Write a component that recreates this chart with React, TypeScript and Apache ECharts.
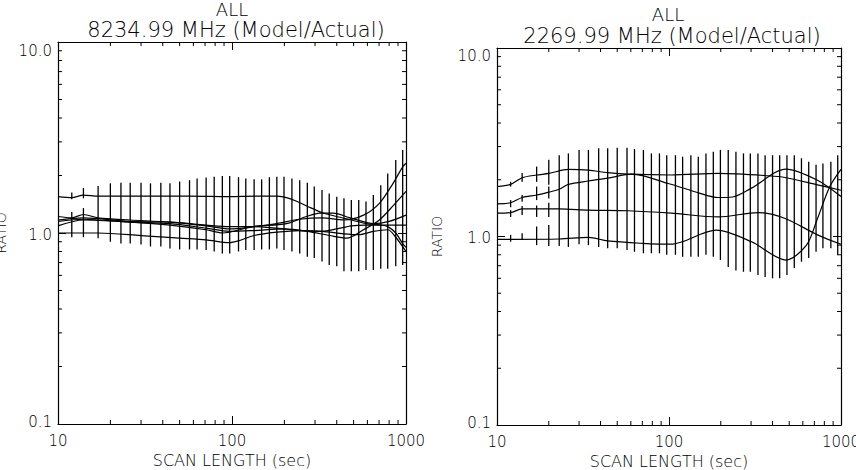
import React, { useEffect, useRef } from "react";
import * as echarts from "echarts";

// ---------- data ----------
const titleTop = "ALL";
const leftTitle = "8234.99 MHz (Model/Actual)";
const rightTitle = "2269.99 MHz (Model/Actual)";
const xName = "SCAN LENGTH (sec)";
const yName = "RATIO";

const xMinorTicks = [20, 30, 40, 50, 60, 70, 80, 90, 200, 300, 400, 500, 600, 700, 800, 900];
const yMinorTicks = [0.2, 0.3, 0.4, 0.5, 0.6, 0.7, 0.8, 0.9, 2, 3, 4, 5, 6, 7, 8, 9];

// Left panel (8234.99 MHz) – ratio curves [scan length, ratio]
const left1: [number, number][] = [[10, 1.55], [12, 1.53], [14, 1.58], [17, 1.56], [30, 1.56], [57, 1.56], [97, 1.55], [134, 1.56], [181, 1.56], [221, 1.5], [271, 1.38], [329, 1.28], [400, 1.22], [485, 1.17], [589, 1.12], [716, 1.1], [785, 1.08], [873, 1.0], [957, 0.88], [1000, 0.84]];
const left2: [number, number][] = [[10, 1.22], [12, 1.2], [14, 1.25], [17, 1.2], [26, 1.17], [44, 1.14], [71, 1.09], [97, 1.05], [134, 1.08], [181, 1.12], [245, 1.18], [329, 1.2], [440, 1.17], [570, 1.24], [703, 1.43], [843, 1.82], [957, 2.22], [1000, 2.32]];
const left3: [number, number][] = [[10, 1.15], [14, 1.18], [26, 1.14], [44, 1.12], [71, 1.06], [97, 1.02], [134, 1.03], [199, 1.05], [271, 1.02], [364, 0.97], [456, 0.94], [570, 1.04], [703, 1.17], [850, 1.4], [1000, 1.65]];
const left4: [number, number][] = [[10, 1.09], [14, 1.17], [26, 1.14], [44, 1.1], [71, 1.04], [88, 1.0], [132, 1.08], [206, 1.12], [268, 1.22], [320, 1.27], [381, 1.27], [478, 1.2], [650, 1.12], [800, 1.15], [1000, 1.24]];
const left5: [number, number][] = [[10, 1.17], [14, 1.2], [26, 1.15], [44, 1.14], [71, 1.1], [97, 1.08], [134, 1.08], [181, 1.06], [245, 1.03], [329, 1.02], [400, 1.05], [485, 1.09], [589, 1.1], [716, 1.1], [1000, 1.1]];
const left6: [number, number][] = [[10, 1.0], [17, 1.0], [30, 0.97], [50, 0.94], [71, 0.92], [97, 0.89], [109, 0.91], [134, 0.97], [181, 1.01], [245, 1.03], [329, 1.02], [440, 0.99], [535, 0.98], [649, 1.02], [785, 1.04], [873, 0.95], [1000, 0.8]];

// Left panel error bars: separate short bars at the first scan lengths, then the combined span
const leftEarlyBars: [number, number, number][] = [[12, 1.5, 1.63], [12, 0.95, 1.29], [14, 1.52, 1.72], [14, 0.95, 1.35]];
const leftBarX = [17, 20, 23, 26, 30, 34, 39, 44, 50, 57, 63, 71, 79, 88, 97, 109, 120, 134, 148, 164, 181, 199, 221, 245, 271, 297, 329, 362, 400, 440, 485, 535, 589, 649, 716, 785, 873, 957];
const leftBarLow = [0.94, 0.9, 0.88, 0.88, 0.87, 0.85, 0.85, 0.83, 0.82, 0.82, 0.82, 0.815, 0.8, 0.78, 0.78, 0.8, 0.815, 0.815, 0.82, 0.82, 0.83, 0.815, 0.8, 0.78, 0.75, 0.74, 0.71, 0.68, 0.67, 0.63, 0.63, 0.63, 0.64, 0.64, 0.65, 0.65, 0.67, 0.68];
const leftBarHigh = [1.76, 1.82, 1.83, 1.83, 1.83, 1.82, 1.83, 1.82, 1.86, 1.89, 1.93, 1.95, 1.97, 1.99, 1.99, 1.96, 1.93, 1.91, 1.91, 1.96, 1.97, 1.97, 1.93, 1.89, 1.83, 1.75, 1.68, 1.61, 1.55, 1.52, 1.49, 1.49, 1.46, 1.58, 1.78, 2.05, 2.41, 2.72];

// Right panel (2269.99 MHz)
const right1: [number, number][] = [[10, 1.84], [12, 1.89], [14, 2.05], [17, 2.12], [20, 2.16], [26, 2.27], [34, 2.25], [44, 2.18], [58, 2.14], [103, 2.12], [193, 2.16], [377, 2.1], [479, 2.05], [730, 1.88], [1000, 1.76]];
const right2: [number, number][] = [[10, 1.49], [12, 1.51], [14, 1.61], [17, 1.66], [20, 1.72], [23, 1.78], [26, 1.89], [34, 1.97], [44, 2.04], [61, 2.14], [99, 1.91], [150, 1.7], [193, 1.61], [234, 1.62], [300, 1.8], [479, 2.28], [730, 1.99], [1000, 1.63]];
const right3: [number, number][] = [[10, 1.33], [12, 1.34], [14, 1.4], [23, 1.4], [34, 1.38], [58, 1.37], [103, 1.33], [193, 1.27], [330, 1.34], [470, 1.25], [730, 1.02], [1000, 0.91]];
const right4: [number, number][] = [[10, 0.966], [12, 0.966], [23, 0.97], [34, 0.99], [44, 0.947], [70, 0.92], [103, 0.91], [120, 0.94], [188, 1.08], [300, 0.94], [479, 0.75], [630, 0.9], [724, 1.22], [861, 1.84], [1000, 2.27]];

const rightEarlyBars: [number, number, number][] = [
  [12, 1.84, 1.95], [12, 1.43, 1.56], [12, 1.27, 1.38], [12, 0.938, 1.02],
  [14, 1.95, 2.17], [14, 1.53, 1.66], [14, 1.3, 1.45], [14, 0.958, 1.04],
  [17, 1.95, 2.35], [17, 1.56, 1.84], [17, 1.27, 1.46], [17, 0.9, 1.13],
  [20, 1.88, 2.55], [20, 1.59, 1.84], [20, 1.27, 1.51], [20, 0.89, 1.15],
];
const rightBarX = [23, 26, 30, 34, 39, 44, 50, 57, 63, 71, 79, 88, 97, 109, 120, 134, 148, 164, 181, 199, 221, 245, 271, 297, 329, 362, 400, 440, 485, 535, 589, 649, 716, 785, 873, 957];
const rightBarLow = [0.89, 0.88, 0.91, 0.9, 0.88, 0.866, 0.866, 0.848, 0.83, 0.815, 0.815, 0.815, 0.8, 0.8, 0.78, 0.78, 0.78, 0.8, 0.78, 0.75, 0.69, 0.66, 0.65, 0.65, 0.625, 0.61, 0.6, 0.6, 0.625, 0.68, 0.735, 0.77, 0.83, 0.866, 0.866, 0.8];
const rightBarHigh = [2.7, 2.76, 2.88, 2.88, 2.94, 2.94, 2.96, 2.96, 2.91, 2.88, 2.76, 2.76, 2.7, 2.7, 2.65, 2.7, 2.65, 2.76, 2.82, 2.88, 2.88, 2.82, 2.76, 2.76, 2.76, 2.7, 2.7, 2.7, 2.7, 2.7, 2.6, 2.49, 2.4, 2.44, 2.49, 2.7];

// ---------- chart ----------
const FONT = "DejaVu Sans";
const WEIGHT = 200;
const INK = "#000";

const panels = [
  {
    grid: { left: 58, top: 42, width: 348, height: 382 },
    title: leftTitle, titleX: 236, allX: 232, allTop: 1, titleTop: 20,
    lines: [left1, left2, left3, left4, left5, left6],
    bars: [...leftEarlyBars, ...leftBarX.map((x, i) => [x, leftBarLow[i], leftBarHigh[i]])],
    nameGap: 50, labelTopPad: 18,
  },
  {
    grid: { left: 497, top: 48, width: 344, height: 377 },
    title: rightTitle, titleX: 672, allX: 668, allTop: 6, titleTop: 26,
    lines: [right1, right2, right3, right4],
    bars: [...rightEarlyBars, ...rightBarX.map((x, i) => [x, rightBarLow[i], rightBarHigh[i]])],
    nameGap: 53, labelTopPad: 15,
  },
];

function buildOption() {
  const grid: any[] = [];
  const xAxis: any[] = [];
  const yAxis: any[] = [];
  const series: any[] = [];
  const title: any[] = [];
  const lineStyle = { color: INK, width: 1.2 };

  panels.forEach((p, i) => {
    grid.push({ ...p.grid, containLabel: false, outerBoundsMode: "none" });
    title.push({
      text: titleTop, left: p.allX, top: p.allTop, textAlign: "center", padding: 0,
      textStyle: { fontFamily: FONT, fontSize: 18, fontWeight: WEIGHT, color: INK, lineHeight: 16 },
    });
    title.push({
      text: p.title, left: p.titleX, top: p.titleTop, textAlign: "center", padding: 0,
      textStyle: { fontFamily: FONT, fontSize: 21, fontWeight: WEIGHT, color: INK, lineHeight: 19 },
    });
    const common = {
      type: "log", logBase: 10, gridIndex: i,
      nameMoveOverlap: false,
      axisLine: { show: true, onZero: false, lineStyle },
      axisTick: { show: true, inside: true, length: 8, lineStyle: { color: INK, width: 1 } },
      splitLine: { show: false },
      minorTick: { show: false },
    };
    xAxis.push({
      ...common, min: 10, max: 1000, position: "bottom",
      name: xName, nameLocation: "middle", nameGap: 28,
      nameTextStyle: { fontFamily: FONT, fontSize: 16, fontWeight: WEIGHT, color: INK, lineHeight: 16 },
      axisLabel: { margin: 9, fontFamily: FONT, fontSize: 15, fontWeight: WEIGHT, color: INK, lineHeight: 15, formatter: (v: number) => String(Math.round(v)) },
    });
    xAxis.push({ ...common, min: 10, max: 1000, position: "top", axisLabel: { show: false } });
    const lbl = { fontFamily: FONT, fontSize: 15, fontWeight: WEIGHT, color: INK };
    yAxis.push({
      ...common, min: 0.1, max: 10, position: "left",
      name: yName, nameLocation: "middle", nameGap: p.nameGap, nameRotate: 90,
      nameTextStyle: { fontFamily: FONT, fontSize: 14, fontWeight: WEIGHT, color: INK },
      axisLabel: {
        margin: 6,
        verticalAlignMinLabel: "middle",
        verticalAlignMaxLabel: "middle",
        formatter: (v: number) => (v > 5 ? "{t|10.0}" : v < 0.5 ? "{b|0.1}" : "{m|1.0}"),
        rich: {
          t: { ...lbl, padding: [p.labelTopPad, 0, 0, 0] },
          m: { ...lbl, padding: [3, 0, 0, 0] },
          b: { ...lbl, padding: [0, 0, 4, 0] },
        },
      },
    });
    yAxis.push({ ...common, min: 0.1, max: 10, position: "right", axisLabel: { show: false } });

    const xa = 2 * i;
    const ya = 2 * i;

    // error bars
    series.push({
      type: "custom", xAxisIndex: xa, yAxisIndex: ya, silent: true, z: 3,
      data: p.bars,
      encode: { x: 0, y: [1, 2] },
      renderItem: (params: any, api: any) => {
        const x = api.value(0);
        const a = api.coord([x, api.value(1)]);
        const b = api.coord([x, api.value(2)]);
        return { type: "line", shape: { x1: a[0], y1: a[1], x2: b[0], y2: b[1] }, style: { stroke: INK, lineWidth: 1.3 } };
      },
    });

    // minor ticks on all four sides
    series.push({
      type: "custom", xAxisIndex: xa, yAxisIndex: ya, silent: true, z: 5,
      data: xMinorTicks.map((v) => [v, 1]),
      encode: { x: 0, y: 1 },
      renderItem: (params: any, api: any) => {
        const cs = params.coordSys;
        const px = api.coord([api.value(0), 1])[0];
        const yb = cs.y + cs.height;
        return {
          type: "group",
          children: [
            { type: "line", shape: { x1: px, y1: yb, x2: px, y2: yb - 4 }, style: { stroke: INK, lineWidth: 1 } },
            { type: "line", shape: { x1: px, y1: cs.y, x2: px, y2: cs.y + 4 }, style: { stroke: INK, lineWidth: 1 } },
          ],
        };
      },
    });
    series.push({
      type: "custom", xAxisIndex: xa, yAxisIndex: ya, silent: true, z: 5,
      data: yMinorTicks.map((v) => [10, v]),
      encode: { x: 0, y: 1 },
      renderItem: (params: any, api: any) => {
        const cs = params.coordSys;
        const py = api.coord([10, api.value(1)])[1];
        const xr = cs.x + cs.width;
        return {
          type: "group",
          children: [
            { type: "line", shape: { x1: cs.x, y1: py, x2: cs.x + 4, y2: py }, style: { stroke: INK, lineWidth: 1 } },
            { type: "line", shape: { x1: xr, y1: py, x2: xr - 4, y2: py }, style: { stroke: INK, lineWidth: 1 } },
          ],
        };
      },
    });

    p.lines.forEach((d) => {
      series.push({
        type: "line", xAxisIndex: xa, yAxisIndex: ya, data: d, symbol: "none",
        smooth: 0.3, lineStyle, silent: true, z: 4, clip: true,
      });
    });
  });

  return { animation: false, backgroundColor: "#fff", title, grid, xAxis, yAxis, series };
}

export default function App() {
  const ref = useRef<HTMLDivElement>(null);
  useEffect(() => {
    if (!ref.current) return;
    const chart = echarts.init(ref.current, null, { renderer: "svg" });
    chart.setOption(buildOption() as any);
    return () => chart.dispose();
  }, []);
  return (
    <div
      ref={ref}
      style={{ position: "fixed", left: 0, top: 0, width: 856, height: 470, background: "#fff" }}
    />
  );
}
